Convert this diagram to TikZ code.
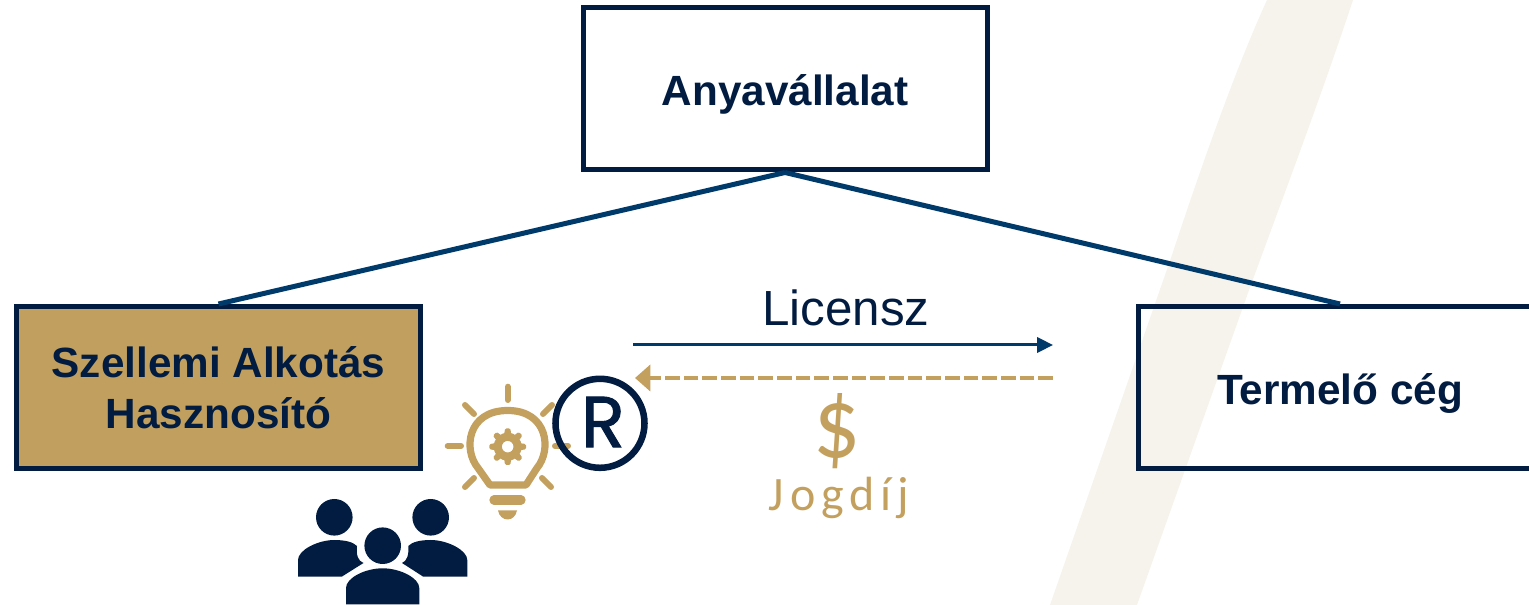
\documentclass[tikz,border=0pt]{standalone}
\usepackage{fontspec}
\usetikzlibrary{arrows.meta}
\setmainfont{Liberation Sans}
\newfontfamily\jogfont[LetterSpace=12.5]{Carlito}
\newfontfamily\dollarfont{Carlito}
\newfontfamily\regfont[FakeBold=1.3]{Poppins}
\definecolor{navy}{HTML}{011C40}
\definecolor{linkblue}{HTML}{003A6B}
\definecolor{gold}{HTML}{C4A05F}
\definecolor{boxgold}{HTML}{C09F5F}
\definecolor{slashc}{HTML}{F6F3EC}
\tikzset{
 x=0.75pt,y=-0.75pt,
 orgbox/.style={draw=navy,line width=3.75pt,minimum width=303pt,minimum height=121.5pt,inner sep=0pt,align=center,text=navy,font=\fontsize{31.7}{38.5}\selectfont\bfseries},
 tie/.style={draw=linkblue,line width=3.75pt},
 licarrow/.style={draw=linkblue,line width=2.25pt,-{Triangle[length=12pt,width=11.5pt]}},
 feearrow/.style={draw=gold,line width=3pt,dash pattern=on 11pt off 3pt,-{Triangle[length=11.5pt,width=19.5pt]}},
 ray/.style={draw=gold,line width=4.5pt,line cap=round},
}
\begin{document}
\begin{tikzpicture}
\useasboundingbox (0,0) rectangle (1529,605);
% background slash
\fill[slashc] (1267,0) .. controls (1235,70) and (1200,170) .. (1172,255) -- (1050,605) -- (1137,605) -- (1248,293) .. controls (1280,205) and (1320,100) .. (1353,0) -- cycle;
% boxes
\node[orgbox] (parent) at (785,89) {\rule{0pt}{31pt}Anyavállalat};
\node[orgbox,fill=boxgold] (ip) at (218.5,387.5) {\rule{0pt}{24pt}Szellemi Alkotás\\Hasznosító};
\node[orgbox] (prod) at (1340,387.5) {\rule{0pt}{32.5pt}Termelő cég};
\draw[tie] (parent.south) -- (ip.north);
\draw[tie] (parent.south) -- (prod.north);
% flows
\coordinate (licA) at (633,345);
\coordinate (licB) at (1053,345);
\coordinate (feeA) at (1053,378);
\coordinate (feeB) at (635,378);
\draw[licarrow] (licA) -- (licB);
\draw[feearrow] (feeA) -- (feeB);
\node[text=navy,font=\fontsize{37}{42}\selectfont,inner sep=0pt] (lic) at (846,308) {Licensz};
\node[text=gold,font=\dollarfont\fontsize{76}{76}\selectfont,inner sep=0pt,xscale=.92,text height=34pt,text depth=0pt] (dollar) at (837,435) {\$};
\node[text=gold,font=\jogfont\fontsize{36}{40}\selectfont,inner sep=0pt] (jog) at (839,498) {Jogdíj};
% bulb
\draw[draw=gold,line width=5.4pt,line join=round]
 (490,485) -- (526,485) -- (537,468)
 .. controls (552,450) and (548,410.5) .. (507.7,410.5)
 .. controls (467,410.5) and (463,450) .. (478,468) -- cycle;
\draw[draw=gold,line width=7pt,line cap=round] (494,500) -- (521,500);
\fill[gold] (498,510.5) -- (517,510.5) .. controls (516,516) and (512,519.5) .. (507.7,519.5) .. controls (503,519.5) and (499,516) .. (498,510.5) -- cycle;
\foreach \a/\b/\c/\d in {507.7/386.7/507.7/400,465/405/474/414,552/405/543/414,447.7/446/461/446,555/446/568/446,465/487/474/478,551/487/542/478}
 \draw[ray] (\a,\b) -- (\c,\d);
% gear
\begin{scope}[shift={(507.7,446.7)}]
 \foreach \t in {0,45,...,315}
  \fill[gold,rotate=\t,rounded corners=1pt] (-3.6,-12) -- (-2.6,-18.3) -- (2.6,-18.3) -- (3.6,-12) -- cycle;
 \fill[gold,even odd rule] (0,0) circle[radius=14] (0,0) circle[radius=5.8];
\end{scope}
% registered mark
\draw[navy,line width=4.9pt] (600,423.3) circle[radius=44.5];
\node[text=navy,font=\regfont\fontsize{54}{60}\selectfont,inner sep=0pt] (reg) at (603,422) {R};
% people
\fill[navy] (334.3,517.3) circle[radius=18.3] (430.7,517.3) circle[radius=18.3] (382.7,545.7) circle[radius=18.3];
\fill[navy] (346,604.3) -- (346,588) .. controls (346,578) and (365,568.3) .. (382.7,568.3) .. controls (400,568.3) and (419.3,578) .. (419.3,588) -- (419.3,604.3) -- cycle;
\fill[navy] (298,576.7) -- (298,560) .. controls (298,550) and (318,540) .. (334.3,540) .. controls (345,540) and (353,542) .. (357,546) .. controls (356,555) and (358,561) .. (363.5,563) -- (341.7,576.7) -- cycle;
\fill[navy] (467.3,576.7) -- (467.3,560) .. controls (467.3,550) and (447,540) .. (430.7,540) .. controls (420,540) and (412,542) .. (408.3,546) .. controls (409,555) and (407,561) .. (402,563) -- (423.3,576.7) -- cycle;
\end{tikzpicture}
\end{document}
